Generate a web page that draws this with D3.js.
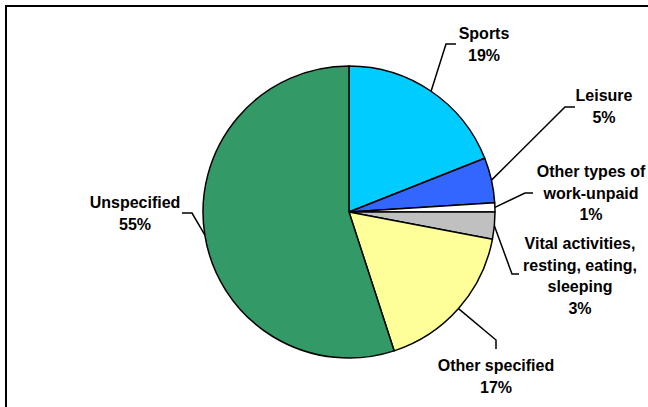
<!DOCTYPE html>
<html>
<head>
<meta charset="utf-8">
<script src="https://cdn.jsdelivr.net/npm/d3@7"></script>
<style>
  html, body { margin: 0; padding: 0; background: #fff; }
  svg { display: block; }
  text { font-family: "Liberation Sans", Arial, sans-serif; font-weight: bold; fill: #000; }
</style>
</head>
<body>
<svg id="chart" width="648" height="407"></svg>
<script>
// Time-use shares, clockwise from 12 o'clock
const categories = [
  "Sports",
  "Leisure",
  "Other types of work-unpaid",
  "Vital activities, resting, eating, sleeping",
  "Other specified",
  "Unspecified"
];
const shares = [19, 5, 1, 3, 17, 55];
const labelLines = [
  ["Sports", "19%"],
  ["Leisure", "5%"],
  ["Other types of", "work-unpaid", "1%"],
  ["Vital activities,", "resting, eating,", "sleeping", "3%"],
  ["Other specified", "17%"],
  ["Unspecified", "55%"]
];
const colors = ["#00CCFF", "#3366FF", "#FFFFFF", "#C0C0C0", "#FFFF99", "#339966"];

// Label placement: text centre x, first baseline y, leader elbow and leader end
const labelLayout = [
  { x: 484, y: 39,  elbow: [446, 44],  end: [456, 44] },
  { x: 604, y: 101, elbow: [565, 107], end: [575, 107] },
  { x: 591, y: 177, elbow: [525, 193], end: [533, 193] },
  { x: 580, y: 249, elbow: [512, 274], end: [519, 274] },
  { x: 496, y: 371, elbow: [496, 340], end: [496, 349] },
  { x: 135, y: 208, elbow: [192, 213], end: [182, 213] }
];

const svg = d3.select("#chart");
const cx = 349, cy = 212, radius = 146;
const lineStep = 21.5;

// Plot-area frame
svg.append("rect")
  .attr("x", 6).attr("y", 6)
  .attr("width", 700).attr("height", 460)
  .attr("fill", "none").attr("stroke", "#000").attr("stroke-width", 2);

const data = categories.map((c, i) => ({ name: c, value: shares[i], i }));

const pie = d3.pie().value(d => d.value).sort(null)
  .startAngle(0).endAngle(2 * Math.PI);
const arcs = pie(data);
const arc = d3.arc().innerRadius(0).outerRadius(radius);
const edgeArc = d3.arc().innerRadius(radius).outerRadius(radius);

const g = svg.append("g").attr("transform", `translate(${cx},${cy})`);

g.selectAll("path.slice")
  .data(arcs)
  .join("path")
  .attr("class", "slice")
  .attr("d", arc)
  .attr("fill", d => colors[d.data.i])
  .attr("stroke", "#000")
  .attr("stroke-width", 1.5)
  .attr("stroke-linejoin", "round");

// Leader lines from slice edge to labels
svg.selectAll("polyline.leader")
  .data(arcs)
  .join("polyline")
  .attr("class", "leader")
  .attr("points", d => {
    const [px, py] = edgeArc.centroid(d);
    const L = labelLayout[d.data.i];
    return [[cx + px, cy + py], L.elbow, L.end].map(p => p.join(",")).join(" ");
  })
  .attr("fill", "none")
  .attr("stroke", "#000")
  .attr("stroke-width", 1.5);

// Category and percentage labels
const labels = svg.selectAll("text.label")
  .data(arcs)
  .join("text")
  .attr("class", "label")
  .attr("text-anchor", "middle")
  .style("font-size", "16px");

labels.each(function(d) {
  const L = labelLayout[d.data.i];
  d3.select(this).selectAll("tspan")
    .data(labelLines[d.data.i])
    .join("tspan")
    .attr("x", L.x)
    .attr("y", (t, k) => L.y + k * lineStep)
    .text(t => t);
});
</script>
</body>
</html>
